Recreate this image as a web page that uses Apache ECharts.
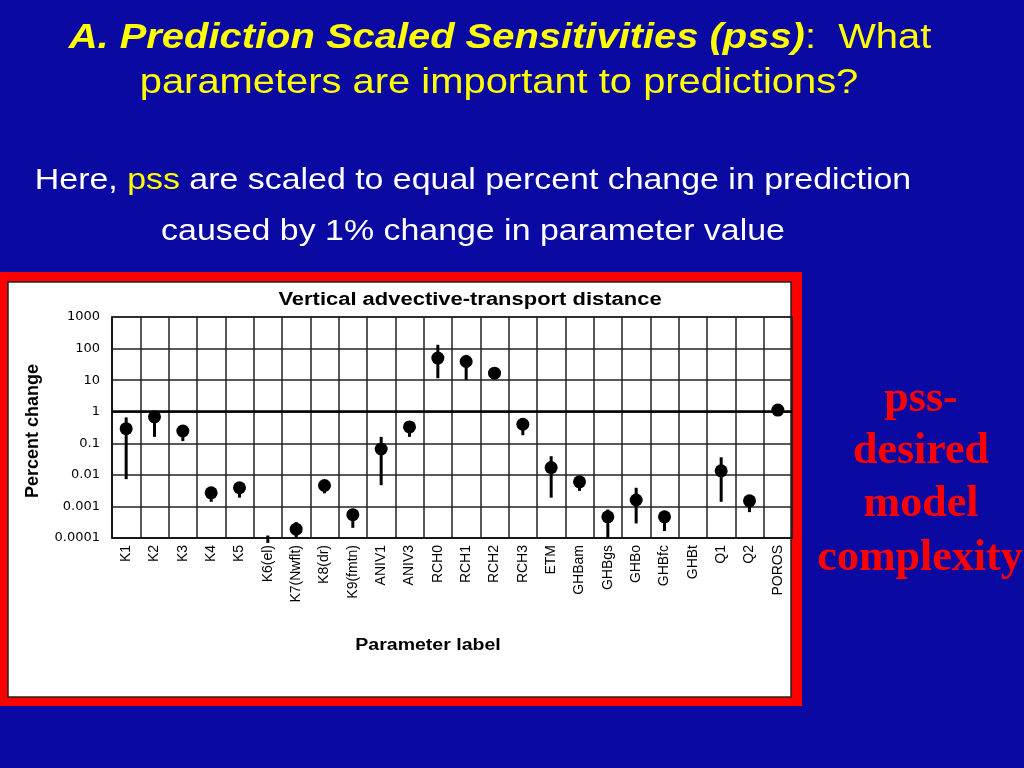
<!DOCTYPE html>
<html>
<head>
<meta charset="utf-8">
<script src="https://cdn.jsdelivr.net/npm/echarts@6/dist/echarts.min.js"></script>
<style>html,body{margin:0;padding:0;background:#0a0aa3;}#c{width:1024px;height:768px;}</style>
</head>
<body>
<div id="c"></div>
<script>
const categories = ['K1','K2','K3','K4','K5','K6(el)','K7(Nwflt)','K8(dr)','K9(fmtn)','ANIV1','ANIV3','RCH0','RCH1','RCH2','RCH3','ETM','GHBam','GHBgs','GHBo','GHBfc','GHBt','Q1','Q2','POROS'];
const pssValues = [0.29,0.69,0.245,0.0027,0.0039,null,0.00019,0.0046,0.00055,0.066,0.33,50,39,16.6,0.40,0.017,0.006,0.00047,0.0016,0.00047,null,0.0134,0.0015,1.13];
const lowerValues = [0.0073,0.16,0.117,0.0014,0.0019,0.00007,0.0001,0.0026,0.00021,0.0047,0.16,11.5,10.2,null,0.18,0.0019,0.0031,0.0001,0.00029,0.000166,null,0.0014,0.00066,null];
const upperValues = [0.66,0.8,0.38,0.0037,0.0053,0.00012,0.00032,0.0065,0.00076,0.16,0.43,132,63,null,0.59,0.039,0.0083,0.0008,0.0039,0.00062,null,0.036,0.0019,null];
const yTickLabels = ['0.0001','0.001','0.01','0.1','1','10','100','1000'];

const scatterData = pssValues.map((v,i)=> v==null ? [i, '-'] : [i, v]);
const barData = [];
lowerValues.forEach((lo,i)=>{ if(lo!=null && upperValues[i]!=null) barData.push([i, lo, upperValues[i]]); });

const chart = echarts.init(document.getElementById('c'));
chart.setOption({
  backgroundColor: '#0a0aa3',
  animation: false,
  grid: {left:112, right:232, top:317, bottom:230, show:true, borderColor:'#222', borderWidth:1.5, z:3},
  xAxis: {
    type:'category', data:categories, boundaryGap:true, z:3,
    axisLine:{show:true, lineStyle:{color:'#111', width:1.5}},
    axisTick:{show:false},
    splitLine:{show:true, interval:0, lineStyle:{color:'#222', width:1.5}},
    axisLabel:{interval:0, rotate:90, margin:7, fontSize:14, color:'#000', fontFamily:'Liberation Sans'}
  },
  yAxis: {
    type:'log', logBase:10, min:0.0001, max:1000, interval:1, z:3,
    axisLine:{show:true, lineStyle:{color:'#111', width:1.5}},
    axisTick:{show:false},
    splitLine:{show:true, lineStyle:{color:'#222', width:1.5}},
    axisLabel:{margin:12, fontSize:13, color:'#000', fontFamily:'DejaVu Sans',
      formatter: v => yTickLabels[Math.round(Math.log10(v))+4]}
  },
  series: [
    {
      type:'custom', z:4, clip:false,
      data: barData,
      encode:{x:0, y:[1,2]},
      renderItem: function(params, api){
        const x = api.value(0);
        const p1 = api.coord([x, api.value(1)]);
        const p2 = api.coord([x, api.value(2)]);
        return {type:'line', shape:{x1:p1[0], y1:p1[1], x2:p2[0], y2:p2[1]}, style:{stroke:'#000', lineWidth:3}};
      }
    },
    {
      type:'scatter', z:5, symbol:'circle', symbolSize:13,
      itemStyle:{color:'#000', opacity:1},
      data: scatterData,
      markLine:{symbol:'none', silent:true, label:{show:false},
        lineStyle:{color:'#000', width:2.5, type:'solid', opacity:1}, data:[{yAxis:1}]}
    }
  ],
  graphic: [
    {type:'rect', z:-2, shape:{x:0, y:272, width:802, height:434}, style:{fill:'#ff0000'}},
    {type:'rect', z:-1, shape:{x:8, y:282, width:783, height:415}, style:{fill:'#fff', stroke:'#222', lineWidth:1.5}},
    {type:'text', x:500, y:38, scaleX:1.14, style:{
      text:'{a|A. Prediction Scaled Sensitivities (pss)}{b|:  What}',
      align:'center', verticalAlign:'middle',
      rich:{a:{fontFamily:'Liberation Sans', fontStyle:'italic', fontWeight:'bold', fontSize:35, fill:'#ffff00'},
            b:{fontFamily:'Liberation Sans', fontSize:35, fill:'#ffff00'}}}},
    {type:'text', x:499, y:83, scaleX:1.14, style:{
      text:'parameters are important to predictions?', align:'center', verticalAlign:'middle',
      fontFamily:'Liberation Sans', fontSize:35, fill:'#ffff00'}},
    {type:'text', x:473, y:181, scaleX:1.13, style:{
      text:'{w|Here, }{y|pss}{w| are scaled to equal percent change in prediction}',
      align:'center', verticalAlign:'middle',
      rich:{w:{fontFamily:'Liberation Sans', fontSize:30, fill:'#ffffff'},
            y:{fontFamily:'Liberation Sans', fontSize:30, fill:'#ffff00'}}}},
    {type:'text', x:473, y:232, scaleX:1.13, style:{
      text:'caused by 1% change in parameter value', align:'center', verticalAlign:'middle',
      fontFamily:'Liberation Sans', fontSize:30, fill:'#ffffff'}},
    {type:'text', x:470, y:300, scaleX:1.22, z:10, style:{
      text:'Vertical advective-transport distance', align:'center', verticalAlign:'middle',
      fontFamily:'Liberation Sans', fontWeight:'bold', fontSize:18, fill:'#000'}},
    {type:'text', x:33, y:431, rotation:Math.PI/2, z:10, style:{
      text:'Percent change', align:'center', verticalAlign:'middle',
      fontFamily:'Liberation Sans', fontWeight:'bold', fontSize:18, fill:'#000'}},
    {type:'text', x:428, y:646, scaleX:1.22, z:10, style:{
      text:'Parameter label', align:'center', verticalAlign:'middle',
      fontFamily:'Liberation Sans', fontWeight:'bold', fontSize:16, fill:'#000'}},
    {type:'text', x:921, y:400, style:{text:'pss-', align:'center', verticalAlign:'middle',
      fontFamily:'Liberation Serif', fontWeight:'bold', fontSize:44, fill:'#ff0000'}},
    {type:'text', x:921, y:452, style:{text:'desired', align:'center', verticalAlign:'middle',
      fontFamily:'Liberation Serif', fontWeight:'bold', fontSize:44, fill:'#ff0000'}},
    {type:'text', x:921, y:505, style:{text:'model', align:'center', verticalAlign:'middle',
      fontFamily:'Liberation Serif', fontWeight:'bold', fontSize:44, fill:'#ff0000'}},
    {type:'text', x:920, y:559, style:{text:'complexity', align:'center', verticalAlign:'middle',
      fontFamily:'Liberation Serif', fontWeight:'bold', fontSize:44, fill:'#ff0000'}}
  ]
});
</script>
</body>
</html>
